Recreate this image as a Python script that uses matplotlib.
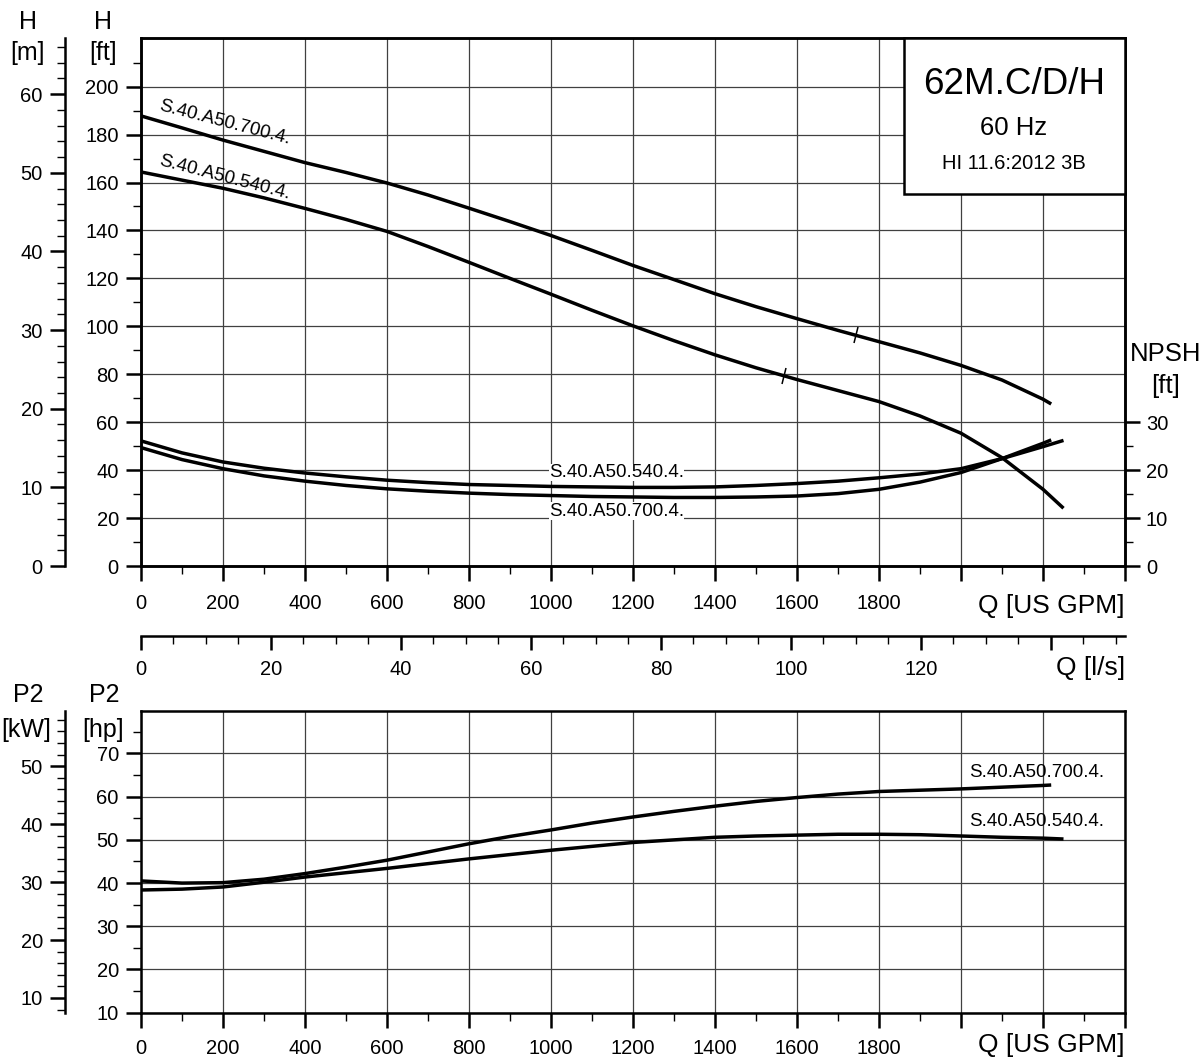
import numpy as np
import matplotlib
matplotlib.use("Agg")
import matplotlib.pyplot as plt
from matplotlib.ticker import FixedLocator, FuncFormatter
from matplotlib.markers import MarkerStyle
from matplotlib.transforms import Affine2D
import matplotlib.patches as patches

plt.rcParams['font.family'] = ['Liberation Sans', 'DejaVu Sans']

# flow points (US GPM)
q_700 = [0, 100, 200, 300, 400, 500, 600, 700, 800, 900, 1000, 1100, 1200,
         1300, 1400, 1500, 1600, 1700, 1800, 1900, 2000, 2100, 2200, 2220]
q_540 = [0, 100, 200, 300, 400, 500, 600, 700, 800, 900, 1000, 1100, 1200,
         1300, 1400, 1500, 1600, 1700, 1800, 1900, 2000, 2100, 2200, 2250]

# head [ft]
h_700 = [187.8, 182.8, 177.7, 173.0, 168.3, 164.2, 159.8, 154.8, 149.3, 143.7,
         137.9, 131.7, 125.4, 119.5, 113.6, 108.2, 103.2, 98.3, 93.6, 88.9,
         83.7, 77.6, 69.6, 67.6]
h_540 = [164.4, 161.0, 157.6, 153.6, 149.2, 144.6, 139.6, 133.3, 126.7, 120.0,
         113.4, 106.7, 100.2, 94.0, 88.1, 82.7, 77.8, 73.2, 68.6, 62.6,
         55.4, 45.2, 32.0, 24.1]

# NPSH [ft]
npsh_700 = [24.7, 22.2, 20.3, 18.8, 17.7, 16.8, 16.1, 15.6, 15.2, 14.9, 14.7,
            14.5, 14.4, 14.3, 14.3, 14.4, 14.6, 15.1, 16.0, 17.5, 19.5, 22.4,
            25.6, 26.3]
npsh_540 = [26.1, 23.6, 21.7, 20.4, 19.4, 18.6, 17.9, 17.4, 17.0, 16.8, 16.6,
            16.5, 16.4, 16.4, 16.5, 16.8, 17.2, 17.7, 18.4, 19.2, 20.3, 22.4,
            24.9, 26.2]

# P2 [hp]
p2_700 = [40.5, 40.0, 40.1, 40.9, 42.2, 43.7, 45.3, 47.2, 49.1, 50.8, 52.3,
          53.9, 55.3, 56.6, 57.8, 58.9, 59.8, 60.6, 61.2, 61.5, 61.8, 62.2,
          62.6, 62.7]
p2_540 = [38.4, 38.6, 39.1, 40.2, 41.4, 42.4, 43.4, 44.5, 45.6, 46.6, 47.6,
          48.5, 49.4, 50.0, 50.6, 50.9, 51.1, 51.3, 51.3, 51.2, 50.9, 50.6,
          50.4, 50.2]

# duty marks on the head curves
mark_q_700 = 1744
mark_q_540 = 1568

name_700 = "S.40.A50.700.4."
name_540 = "S.40.A50.540.4."

W, H = 1204, 1063
fig = plt.figure(figsize=(W / 100, H / 100), dpi=100)

LW_SP = 1.8
LW_CURVE = 2.5
TICK_FS = 14.5
grid_kw = dict(color='0.25', lw=0.9)
curve_kw = dict(color='black', lw=LW_CURVE, solid_capstyle='butt',
                solid_joinstyle='round')


def style_ticks(axis_obj, which_dir='out'):
    axis_obj.tick_params(which='major', direction=which_dir, length=11, width=1.8,
                         labelsize=TICK_FS)
    axis_obj.tick_params(which='minor', direction=which_dir, length=5.5, width=1.0)


def gpm_fmt(v, pos):
    return "%d" % v if v <= 1800 else ""


# ---------------- top chart ----------------
ax = fig.add_axes([141 / W, 1 - 566 / H, 984 / W, 528 / H])
ax.set_xlim(0, 2400)
ax.set_ylim(0, 220.3)
for s in ax.spines.values():
    s.set_linewidth(LW_SP)

ax.xaxis.set_major_locator(FixedLocator(np.arange(0, 2401, 200)))
ax.xaxis.set_minor_locator(FixedLocator(np.arange(100, 2400, 200)))
ax.xaxis.set_major_formatter(FuncFormatter(gpm_fmt))
ax.yaxis.set_major_locator(FixedLocator(np.arange(0, 201, 20)))
ax.yaxis.set_minor_locator(FixedLocator(np.arange(10, 220, 20)))
style_ticks(ax)
ax.tick_params(axis='x', which='major', pad=9)
ax.tick_params(axis='y', which='major', pad=5)
ax.grid(True, which='major', **grid_kw)

ax.plot(q_700, h_700, zorder=3, **curve_kw)
ax.plot(q_540, h_540, zorder=3, **curve_kw)

tick_marker = MarkerStyle('|', transform=Affine2D().rotate_deg(-15))
for mq, qq, hh in [(mark_q_700, q_700, h_700), (mark_q_540, q_540, h_540)]:
    ax.plot([mq], [np.interp(mq, qq, hh)], marker=tick_marker, ms=11.5,
            mew=1.1, color='black', zorder=4)

ax.text(41, 190.2, name_700, rotation=-14.6, rotation_mode='anchor',
        ha='left', va='baseline', fontsize=13.5, zorder=5)
ax.text(41, 167.2, name_540, rotation=-14.6, rotation_mode='anchor',
        ha='left', va='baseline', fontsize=13.5, zorder=5)

# m axis
sec_m = ax.secondary_yaxis(-76 / 984, functions=(lambda x: x / 3.28084,
                                                  lambda x: x * 3.28084))
sec_m.spines['left'].set_linewidth(LW_SP)
sec_m.yaxis.set_major_locator(FixedLocator(np.arange(0, 61, 10)))
sec_m.yaxis.set_minor_locator(FixedLocator(np.arange(2, 67, 2)))
style_ticks(sec_m)
sec_m.tick_params(axis='y', which='major', pad=5)

# l/s axis
sec_ls = ax.secondary_xaxis(-70 / 528, functions=(lambda x: x * 0.0630902,
                                                   lambda x: x / 0.0630902))
sec_ls.spines['bottom'].set_linewidth(LW_SP)
sec_ls.xaxis.set_major_locator(FixedLocator(np.arange(0, 141, 20)))
sec_ls.xaxis.set_minor_locator(FixedLocator([v for v in range(5, 155, 5) if v % 20]))
sec_ls.xaxis.set_major_formatter(FuncFormatter(lambda v, p: "%d" % v if v <= 120 else ""))
style_ticks(sec_ls)
sec_ls.tick_params(axis='x', which='major', length=10, pad=7)

# NPSH axis
ax2 = ax.twinx()
ax2.set_ylim(0, 110.15)
for s in ax2.spines.values():
    s.set_linewidth(LW_SP)
ax2.yaxis.set_major_locator(FixedLocator([0, 10, 20, 30]))
ax2.yaxis.set_minor_locator(FixedLocator([5, 15, 25]))
style_ticks(ax2)
ax2.tick_params(axis='y', which='major', pad=4)
ax2.plot(q_700, npsh_700, **curve_kw)
ax2.plot(q_540, npsh_540, **curve_kw)
ax2.text(995, 19.5, name_540, ha='left', va='center', fontsize=13.5,
         bbox=dict(fc='white', ec='none', pad=0.3))
ax2.text(995, 11.4, name_700, ha='left', va='center', fontsize=13.5,
         bbox=dict(fc='white', ec='none', pad=0.3))

# info box
ax2.add_patch(patches.Rectangle((763 / 984, 1 - 156 / 528), 221 / 984, 156 / 528,
                                transform=ax.transAxes, fc='white', ec='black',
                                lw=LW_SP, zorder=6, clip_on=False))
ax2.text(0.887, 0.912, "62M.C/D/H", transform=ax.transAxes, ha='center',
         va='center', fontsize=26.5, zorder=7)
ax2.text(0.887, 0.8295, "60 Hz", transform=ax.transAxes, ha='center',
         va='center', fontsize=18.5, zorder=7)
ax2.text(0.887, 0.763, "HI 11.6:2012 3B", transform=ax.transAxes, ha='center',
         va='center', fontsize=14.5, zorder=7)

ax.text(1.0, -40 / 528, "Q [US GPM]", transform=ax.transAxes, ha='right',
        va='center', fontsize=19)
ax.text(1.0, -102 / 528, "Q [l/s]", transform=ax.transAxes, ha='right',
        va='center', fontsize=19)

# ---------------- bottom chart ----------------
bx = fig.add_axes([141 / W, 1 - 1012.7 / H, 984 / W, 302 / H])
bx.set_xlim(0, 2400)
bx.set_ylim(10, 79.9)
for s in bx.spines.values():
    s.set_linewidth(LW_SP)
bx.xaxis.set_major_locator(FixedLocator(np.arange(0, 2401, 200)))
bx.xaxis.set_minor_locator(FixedLocator(np.arange(100, 2400, 200)))
bx.xaxis.set_major_formatter(FuncFormatter(gpm_fmt))
bx.yaxis.set_major_locator(FixedLocator(np.arange(10, 71, 10)))
bx.yaxis.set_minor_locator(FixedLocator(np.arange(15, 80, 10)))
style_ticks(bx)
bx.tick_params(axis='x', which='major', pad=8)
bx.tick_params(axis='y', which='major', pad=5)
bx.grid(True, which='major', **grid_kw)

bx.plot(q_700, p2_700, **curve_kw)
bx.plot(q_540, p2_540, **curve_kw)
bx.text(2020, 65.7, name_700, ha='left', va='center', fontsize=13.5)
bx.text(2020, 54.2, name_540, ha='left', va='center', fontsize=13.5)

sec_kw = bx.secondary_yaxis(-76 / 984, functions=(lambda x: x * 0.7457,
                                                   lambda x: x / 0.7457))
sec_kw.spines['left'].set_linewidth(LW_SP)
sec_kw.yaxis.set_major_locator(FixedLocator(np.arange(10, 51, 10)))
sec_kw.yaxis.set_minor_locator(FixedLocator([v for v in range(8, 60, 2) if v % 10]))
style_ticks(sec_kw)
sec_kw.tick_params(axis='y', which='major', pad=5)

bx.text(1.0, -32 / 302, "Q [US GPM]", transform=bx.transAxes, ha='right',
        va='center', fontsize=19)

# axis titles
def ftext(x, y, s, size=18):
    fig.text(x / W, 1 - y / H, s, ha='center', va='center', fontsize=size)

ftext(28, 22, "H")
ftext(28, 53, "[m]")
ftext(103, 22, "H")
ftext(103, 53, "[ft]")
ftext(1166, 354, "NPSH", 18.5)
ftext(1166, 386, "[ft]", 18.5)
ftext(28, 695, "P2")
ftext(26, 730, "[kW]")
ftext(104, 695, "P2")
ftext(103, 730, "[hp]")

fig.savefig("out.png", dpi=100)
